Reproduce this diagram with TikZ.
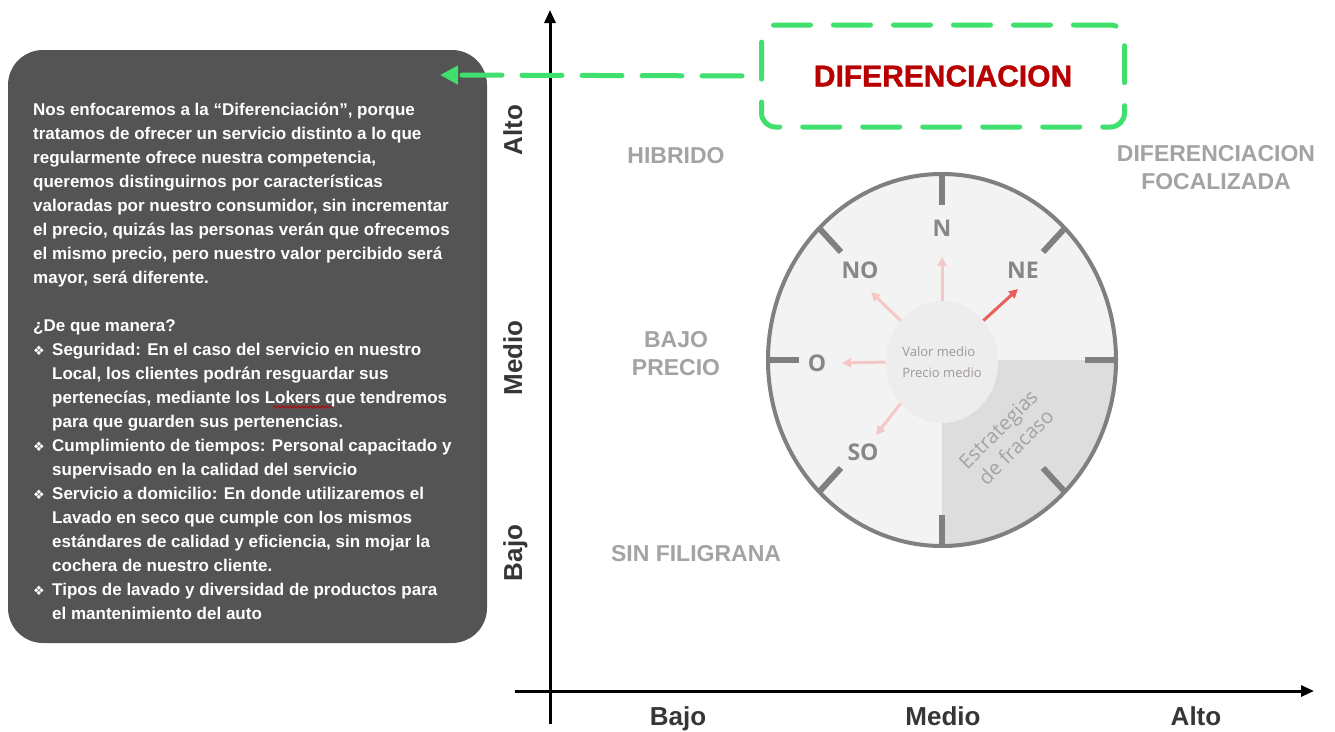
\documentclass[tikz,border=0pt]{standalone}
\usepackage{fontspec}
\setmainfont{Liberation Sans}
\newfontfamily\osans{Open Sans}
\newfontfamily\heavy[FakeBold=1.2]{Liberation Sans Bold}
\newfontfamily\djv{DejaVu Sans}
\usetikzlibrary{arrows.meta,shapes.geometric,decorations.pathmorphing}
\definecolor{boxgray}{HTML}{545454}
\definecolor{grn}{HTML}{3FE06E}
\definecolor{dred}{HTML}{B80000}
\definecolor{qgray}{HTML}{A3A3A3}
\definecolor{axlbl}{HTML}{363636}
\definecolor{ring}{HTML}{808080}
\definecolor{cardc}{HTML}{878787}
\definecolor{cbg}{HTML}{F3F3F3}
\definecolor{cquad}{HTML}{DDDDDD}
\definecolor{cdisc}{HTML}{EDEDED}
\definecolor{lpink}{HTML}{F5C8C8}
\definecolor{redarr}{HTML}{E8605C}
\definecolor{ctext}{HTML}{A09898}
\newcommand{\mybul}{\makebox[19pt][l]{\djv\fontsize{13}{13}\selectfont ❖}}
\newcommand{\myind}{\hspace*{19pt}}
\begin{document}
\begin{tikzpicture}[x=1pt,y=-1pt,
  axisline/.style={line width=3pt,-{Triangle[length=13pt,width=11pt]}},
  axlabel/.style={font=\fontsize{26}{28}\selectfont\bfseries,text=axlbl,inner sep=0,anchor=base},
  quadlabel/.style={font=\fontsize{23}{28}\selectfont\bfseries,text=qgray,align=center,inner sep=0},
  cardinal/.style={font=\osans\fontsize{23}{23}\selectfont\bfseries,text=cardc,inner sep=0},
  tickmark/.style={line width=6pt,draw=ring},
  softarrow/.style={line width=3pt,draw=lpink,-{Triangle[length=9pt,width=9pt]}},
  greendash/.style={draw=grn,line width=5pt,line cap=round}
]
\useasboundingbox (0,0) rectangle (1335,731);
\fill[white] (0,0) rectangle (1335,731);

% ---------- left text box ----------
\node[fill=boxgray,rounded corners=35pt,minimum width=479pt,minimum height=593pt,inner sep=0] (box) at (247.5,346.5) {};
\node[anchor=north west,inner sep=0,text=white,align=left,font=\fontsize{17}{24}\selectfont\bfseries] (body) at (33,103) {%
Nos enfocaremos a la “Diferenciación”, porque\\
tratamos de ofrecer un servicio distinto a lo que\\
regularmente ofrece nuestra competencia,\\
queremos distinguirnos por características\\
valoradas por nuestro consumidor, sin incrementar\\
el precio, quizás las personas verán que ofrecemos\\
el mismo precio, pero nuestro valor percibido será\\
mayor, será diferente.\\[24pt]
¿De que manera?\\
\mybul Seguridad: En el caso del servicio en nuestro\\
\myind Local, los clientes podrán resguardar sus\\
\myind pertenecías, mediante los Lokers que tendremos\\
\myind para que guarden sus pertenencias.\\
\mybul Cumplimiento de tiempos: Personal capacitado y\\
\myind supervisado en la calidad del servicio\\
\mybul Servicio a domicilio: En donde utilizaremos el\\
\myind Lavado en seco que cumple con los mismos\\
\myind estándares de calidad y eficiencia, sin mojar la\\
\myind cochera de nuestro cliente.\\
\mybul Tipos de lavado y diversidad de productos para\\
\myind el mantenimiento del auto};
\draw[red!75!black,line width=0.8pt,decorate,decoration={snake,amplitude=1pt,segment length=4pt}] (273,407) -- (333,407);

% ---------- compass ----------
\fill[cbg] (942,360) ellipse [x radius=174,y radius=186];
\begin{scope}
  \clip (942,360) ellipse [x radius=174,y radius=186];
  \fill[cquad] (942,360) rectangle (1130,560);
\end{scope}
\draw[ring,line width=4pt] (942,360) ellipse [x radius=174,y radius=186];
\draw[tickmark] (942,174) -- (942,205);
\draw[tickmark] (942,546) -- (942,515);
\draw[tickmark] (1116,360) -- (1085,360);
\draw[tickmark] (768,360) -- (799,360);
\draw[tickmark] (819,228) -- (841,252);
\draw[tickmark] (1065,228) -- (1043,252);
\draw[tickmark] (819,492) -- (841,468);
\draw[tickmark] (1065,492) -- (1043,468);

\node[ellipse,fill=cdisc,minimum width=112pt,minimum height=122pt,inner sep=0,align=left,
      font=\osans\fontsize{13}{21}\selectfont,text=ctext] (ctr) at (942,362) {Valor medio\\Precio medio};

\node[cardinal] (cN) at (942,228) {N};
\node[cardinal] (cNO) at (860,270) {NO};
\node[cardinal] (cNE) at (1023,270) {NE};
\node[cardinal] (cO) at (817,363) {O};
\node[cardinal] (cSO) at (863,452) {SO};

\coordinate (tN) at (942,257);
\coordinate (tNO) at (871,292);
\coordinate (tNE) at (1018,289);
\coordinate (tO) at (842,363);
\coordinate (tSO) at (876,435);
\draw[softarrow] (ctr.north) -- (tN);
\draw[softarrow] (ctr.135) -- (tNO);
\draw[softarrow] (ctr.west) -- (tO);
\draw[softarrow] (ctr.225) -- (tSO);
\draw[softarrow,draw=redarr] (ctr.45) -- (tNE);

\node[rotate=45,align=center,inner sep=0,font=\osans\fontsize{20}{25}\selectfont,text=qgray] (fracaso) at (1007,438) {Estrategias\\de fracaso};

% ---------- quadrant labels ----------
\node[quadlabel] (hib) at (676,156) {HIBRIDO};
\node[quadlabel] (bp) at (676,354) {BAJO\\PRECIO};
\node[quadlabel] (sf) at (696,554) {SIN FILIGRANA};
\node[quadlabel] (df) at (1216,168) {DIFERENCIACION\\FOCALIZADA};

% ---------- axes ----------
\coordinate (xs) at (515,691);
\coordinate (xe) at (1314,691);
\coordinate (ys) at (550,724);
\coordinate (ye) at (550,10);
\draw[axisline] (xs) -- (xe);
\draw[axisline] (ys) -- (ye);
\node[axlabel] (xb) at (678,725) {Bajo};
\node[axlabel] (xm) at (943,725) {Medio};
\node[axlabel] (xa) at (1196,725) {Alto};
\node[axlabel,rotate=90] (yb) at (522,553) {Bajo};
\node[axlabel,rotate=90] (ym) at (522,358) {Medio};
\node[axlabel,rotate=90] (ya) at (522,130) {Alto};

% ---------- highlighted strategy ----------
\node[greendash,dash pattern=on 37pt off 23pt,rounded corners=14pt,minimum width=363pt,minimum height=102pt,
      text=dred,font=\heavy\fontsize{30}{30}\selectfont] (dif) at (943,76) {DIFERENCIACION};
\coordinate (tip) at (440,75);
\draw[greendash,dash pattern=on 40pt off 20pt,dash phase=43pt,-{Triangle[length=18pt,width=18pt]}] (dif.west) -- (tip);
\end{tikzpicture}
\end{document}
